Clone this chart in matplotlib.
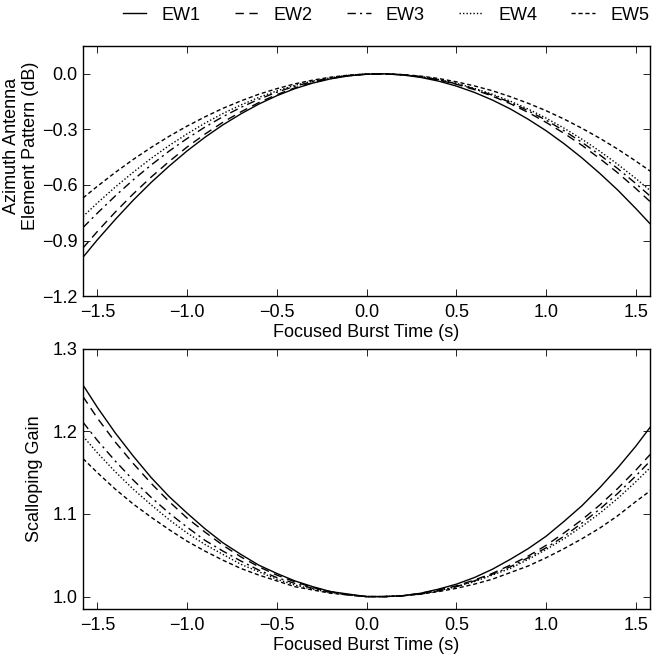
import matplotlib.pyplot as plt

plt.rcParams['font.family'] = ['Liberation Sans', 'DejaVu Sans']
plt.rcParams['font.size'] = 13
plt.rcParams['axes.unicode_minus'] = True

# focused burst time (s)
t = [-1.58, -1.5, -1.4, -1.3, -1.2, -1.1, -1.0, -0.9, -0.8, -0.7, -0.6,
     -0.5, -0.4, -0.3, -0.2, -0.1, 0.0, 0.1, 0.2, 0.3, 0.4, 0.5, 0.6,
     0.7, 0.8, 0.9, 1.0, 1.1, 1.2, 1.3, 1.4, 1.5, 1.58]

# azimuth antenna element pattern (dB)
pat_ew1 = [-0.990, -0.896, -0.786, -0.682, -0.586, -0.498, -0.416, -0.342, -0.275,
           -0.216, -0.163, -0.118, -0.080, -0.050, -0.027, -0.011, -0.002,
           0.000, -0.006, -0.019, -0.039, -0.066, -0.100, -0.141, -0.189,
           -0.245, -0.307, -0.377, -0.454, -0.538, -0.628, -0.727, -0.810]
pat_ew2 = [-0.940, -0.851, -0.746, -0.648, -0.557, -0.473, -0.395, -0.325, -0.261,
           -0.205, -0.155, -0.112, -0.076, -0.047, -0.025, -0.010, -0.002,
           0.000, -0.005, -0.016, -0.033, -0.056, -0.085, -0.120, -0.161,
           -0.208, -0.262, -0.321, -0.386, -0.458, -0.535, -0.619, -0.690]
pat_ew3 = [-0.830, -0.752, -0.659, -0.572, -0.492, -0.417, -0.349, -0.287, -0.231,
           -0.181, -0.137, -0.099, -0.067, -0.042, -0.022, -0.009, -0.001,
           0.000, -0.005, -0.015, -0.032, -0.054, -0.081, -0.115, -0.154,
           -0.199, -0.250, -0.307, -0.370, -0.438, -0.512, -0.592, -0.660]
pat_ew4 = [-0.770, -0.697, -0.611, -0.531, -0.456, -0.387, -0.324, -0.266, -0.214,
           -0.168, -0.127, -0.092, -0.062, -0.039, -0.021, -0.008, -0.001,
           0.000, -0.005, -0.015, -0.030, -0.051, -0.078, -0.110, -0.147,
           -0.190, -0.239, -0.293, -0.353, -0.418, -0.489, -0.565, -0.630]
pat_ew5 = [-0.670, -0.607, -0.532, -0.462, -0.397, -0.337, -0.282, -0.232, -0.186,
           -0.146, -0.110, -0.080, -0.054, -0.034, -0.018, -0.007, -0.001,
           0.000, -0.004, -0.012, -0.025, -0.043, -0.065, -0.091, -0.123,
           -0.159, -0.199, -0.244, -0.294, -0.348, -0.407, -0.471, -0.525]

# scalloping gain
gain_ew1 = [1.256, 1.229, 1.198, 1.170, 1.144, 1.121, 1.101, 1.082, 1.065,
            1.051, 1.038, 1.028, 1.019, 1.012, 1.006, 1.003, 1.000,
            1.000, 1.001, 1.004, 1.009, 1.015, 1.023, 1.033, 1.045,
            1.058, 1.073, 1.091, 1.110, 1.132, 1.156, 1.182, 1.205]
gain_ew2 = [1.242, 1.216, 1.187, 1.161, 1.137, 1.115, 1.095, 1.078, 1.062,
            1.048, 1.036, 1.026, 1.018, 1.011, 1.006, 1.002, 1.000,
            1.000, 1.001, 1.004, 1.008, 1.013, 1.020, 1.028, 1.038,
            1.049, 1.062, 1.077, 1.093, 1.111, 1.131, 1.153, 1.172]
gain_ew3 = [1.211, 1.189, 1.164, 1.141, 1.120, 1.101, 1.084, 1.068, 1.055,
            1.043, 1.032, 1.023, 1.016, 1.010, 1.005, 1.002, 1.000,
            1.000, 1.001, 1.003, 1.007, 1.012, 1.019, 1.027, 1.036,
            1.047, 1.059, 1.073, 1.089, 1.106, 1.125, 1.146, 1.164]
gain_ew4 = [1.194, 1.174, 1.151, 1.130, 1.111, 1.093, 1.077, 1.063, 1.051,
            1.039, 1.030, 1.021, 1.014, 1.009, 1.005, 1.002, 1.000,
            1.000, 1.001, 1.003, 1.007, 1.012, 1.018, 1.026, 1.034,
            1.045, 1.057, 1.070, 1.085, 1.101, 1.119, 1.139, 1.156]
gain_ew5 = [1.167, 1.150, 1.130, 1.112, 1.096, 1.081, 1.067, 1.055, 1.044,
            1.034, 1.026, 1.019, 1.012, 1.008, 1.004, 1.002, 1.000,
            1.000, 1.001, 1.003, 1.006, 1.010, 1.015, 1.021, 1.029,
            1.037, 1.047, 1.058, 1.070, 1.083, 1.098, 1.115, 1.128]

names = ['EW1', 'EW2', 'EW3', 'EW4', 'EW5']
styles = ['-', (0, (6, 4)), (0, (6, 3, 1.5, 3)), (0, (1, 1.5)), (0, (3, 2))]

pats = [pat_ew1, pat_ew2, pat_ew3, pat_ew4, pat_ew5]
gains = [gain_ew1, gain_ew2, gain_ew3, gain_ew4, gain_ew5]

fig = plt.figure(figsize=(6.61, 6.58), dpi=100)
ax1 = fig.add_axes([0.1256, 0.550, 0.858, 0.380])
ax2 = fig.add_axes([0.1256, 0.0745, 0.858, 0.3955])

for name, ls, p, g in zip(names, styles, pats, gains):
    ax1.plot(t, p, color='black', lw=1.0, linestyle=ls, label=name)
    ax2.plot(t, g, color='black', lw=1.0, linestyle=ls)

ax1.set_xlim(-1.58, 1.58)
ax1.set_ylim(-1.2, 0.15)
ax1.set_yticks([-1.2, -0.9, -0.6, -0.3, 0.0])
ax1.set_ylabel('Azimuth Antenna\nElement Pattern (dB)', fontsize=13, linespacing=1.15)
ax1.yaxis.set_label_coords(-0.077, 0.60)

ax2.set_xlim(-1.58, 1.58)
ax2.set_ylim(0.985, 1.3)
ax2.set_yticks([1.0, 1.1, 1.2, 1.3])
ax2.set_ylabel('Scalloping Gain', fontsize=13)
ax2.yaxis.set_label_coords(-0.07, 0.5)

fmt = plt.FuncFormatter(lambda v, _: ('%.1f' % v).replace('-', '\u2212'))
for ax in (ax1, ax2):
    ax.set_xticks([-1.5, -1.0, -0.5, 0.0, 0.5, 1.0, 1.5])
    ax.set_xlabel('Focused Burst Time (s)', fontsize=13, labelpad=2)
    ax.tick_params(direction='in', top=True, right=True, length=5, width=0.6,
                   labelsize=13, pad=6)
    ax.tick_params(axis='y', pad=4)
    for s in ax.spines.values():
        s.set_linewidth(1.0)
    ax.xaxis.set_major_formatter(fmt)
    ax.yaxis.set_major_formatter(fmt)

fig.legend(loc='center', bbox_to_anchor=(0.584, 0.977), ncol=5, frameon=False,
           fontsize=13, handlelength=1.3, columnspacing=1.9, handletextpad=0.85)

fig.savefig('out.png', dpi=100)
